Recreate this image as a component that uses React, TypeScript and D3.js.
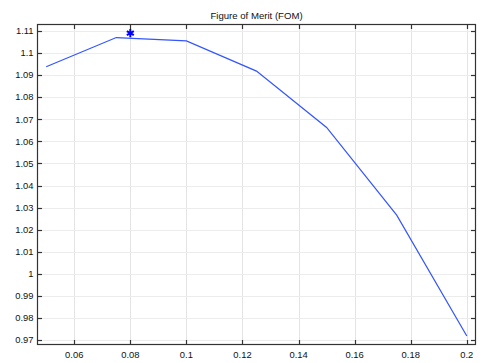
import React from "react";
import * as d3 from "d3";

const title = "Figure of Merit (FOM)";
const xValues = [0.05, 0.075, 0.1, 0.125, 0.15, 0.175, 0.2];
const fomValues = [1.0938, 1.107, 1.1055, 1.0918, 1.0663, 1.0266, 0.9719];
const optimumX = [0.08];
const optimumY = [1.109];
const xTicks = [0.06, 0.08, 0.1, 0.12, 0.14, 0.16, 0.18, 0.2];
const yTicks = [0.97, 0.98, 0.99, 1, 1.01, 1.02, 1.03, 1.04, 1.05, 1.06, 1.07, 1.08, 1.09, 1.1, 1.11];

const W = 483;
const H = 363;
const M = { left: 37.5, right: 7.5, top: 24.5, bottom: 18.5 };

export default function App() {
  const x = d3.scaleLinear().domain([0.0469, 0.2031]).range([M.left, W - M.right]);
  const y = d3.scaleLinear().domain([0.96805, 1.1129]).range([H - M.bottom, M.top]);
  const line = d3
    .line<number>()
    .x((_, i) => x(xValues[i]))
    .y((d) => y(d));
  const star = d3.symbol(d3.symbolAsterisk, 45)();
  const font = "'Liberation Sans', Arial, sans-serif";
  const tickLen = 4.5;
  const x0 = M.left, x1 = W - M.right, y0 = M.top, y1 = H - M.bottom;
  return (
    <svg
      width={W}
      height={H}
      style={{ position: "absolute", left: 0, top: 0, background: "#fff" }}
      fontFamily={font}
    >
      <rect x={0} y={0} width={W} height={H} fill="#fff" />
      {xTicks.map((t) => (
        <line key={"gx" + t} x1={Math.round(x(t)) + 0.5} x2={Math.round(x(t)) + 0.5} y1={y0} y2={y1} stroke="#e4e4e4" strokeWidth={1} />
      ))}
      {yTicks.map((t) => (
        <line key={"gy" + t} x1={x0} x2={x1} y1={Math.round(y(t)) + 0.5} y2={Math.round(y(t)) + 0.5} stroke="#ececec" strokeWidth={1} />
      ))}
      <path d={line(fomValues) || ""} fill="none" stroke="#3355ff" strokeWidth={1.2} />
      {optimumX.map((v, i) => (
        <path key={"s" + i} d={star || ""} transform={`translate(${x(v)},${y(optimumY[i])})`} stroke="#0000ff" strokeWidth={2} fill="#0000ff" />
      ))}
      <rect x={x0} y={y0} width={x1 - x0} height={y1 - y0} fill="none" stroke="#333" strokeWidth={1.2} />
      {xTicks.map((t) => {
        const px = Math.round(x(t)) + 0.5;
        return (
          <g key={"tx" + t}>
            <line x1={px} x2={px} y1={y1} y2={y1 - tickLen} stroke="#333" strokeWidth={1.2} />
            <line x1={px} x2={px} y1={y0} y2={y0 + tickLen} stroke="#333" strokeWidth={1.2} />
            <text x={x(t)} y={y1 + 13} textAnchor="middle" fontSize={9.4} fill="#111">
              {String(t)}
            </text>
          </g>
        );
      })}
      {yTicks.map((t) => {
        const py = Math.round(y(t)) + 0.5;
        return (
          <g key={"ty" + t}>
            <line x1={x0} x2={x0 + tickLen} y1={py} y2={py} stroke="#333" strokeWidth={1.2} />
            <line x1={x1} x2={x1 - tickLen} y1={py} y2={py} stroke="#333" strokeWidth={1.2} />
            <text x={x0 - 4} y={y(t) + 3.3} textAnchor="end" fontSize={9.4} fill="#111">
              {String(t)}
            </text>
          </g>
        );
      })}
      <text x={(x0 + x1) / 2} y={19} textAnchor="middle" fontSize={9.6} fill="#111">
        {title}
      </text>
    </svg>
  );
}
